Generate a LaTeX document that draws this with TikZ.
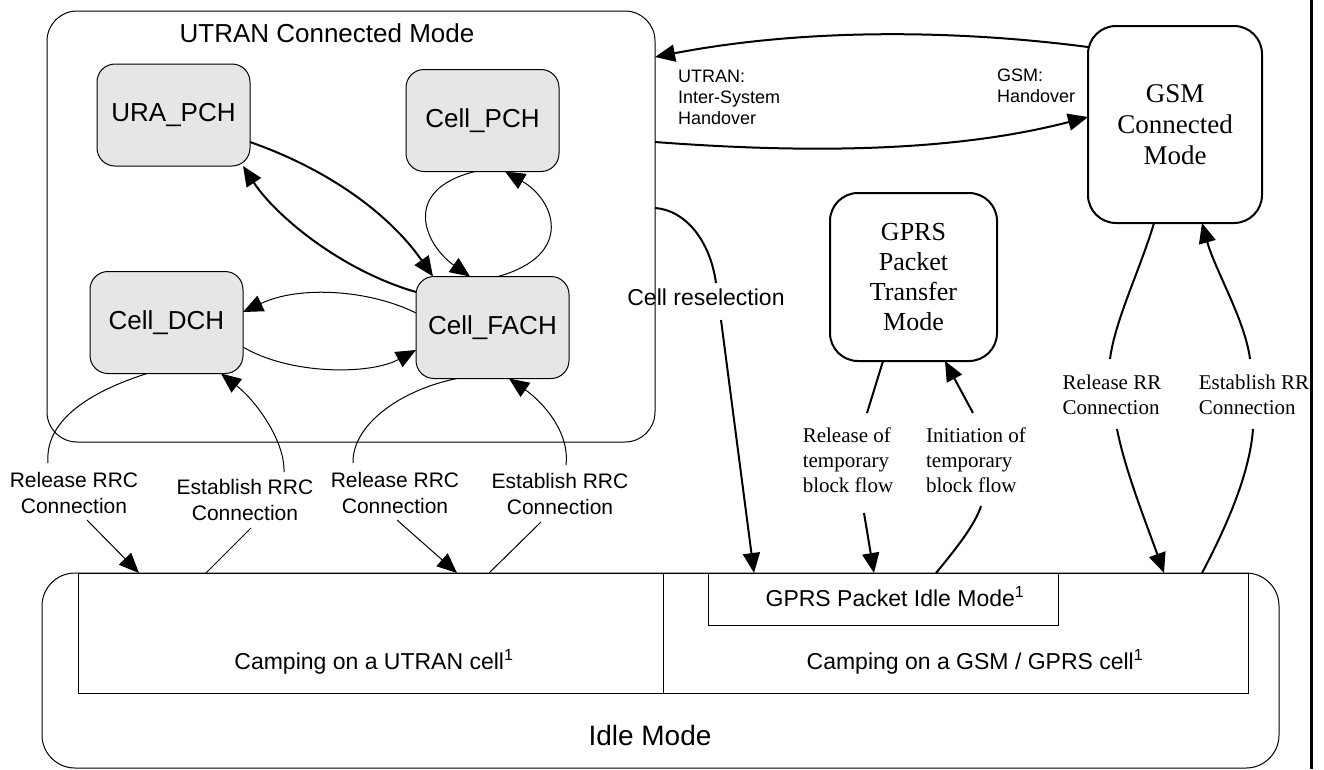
\documentclass[tikz,border=0pt]{standalone}
\usepackage{fontspec}
\setmainfont{Liberation Sans}
\newfontfamily\seriffam{Liberation Serif}
\usetikzlibrary{arrows.meta,calc}
\definecolor{boxgray}{HTML}{E6E6E6}
\begin{document}
\begin{tikzpicture}[x=1pt,y=-1pt,
  every node/.style={inner sep=0pt,outer sep=0pt},
  thinln/.style={line width=1pt},
  thickln/.style={line width=2pt},
  tip/.style={-{Triangle[length=20pt,width=17pt]}},
  substate/.style={draw,line width=1pt,fill=boxgray,rounded corners=18pt,
     minimum width=153pt,minimum height=102pt,font=\fontsize{26}{30}\selectfont},
  bigstate/.style={draw,line width=2pt,rounded corners=28pt,align=center},
  plainbox/.style={draw,line width=1pt},
  rrclbl/.style={align=center,font=\fontsize{21}{26}\selectfont},
  serlbl/.style={align=left,font=\seriffam\fontsize{21}{25}\selectfont},
  holbl/.style={anchor=west,align=left,font=\fontsize{18}{21}\selectfont}
]
\useasboundingbox (0,0) rectangle (1324,769);
\fill[white] (0,0) rectangle (1324,769);

% page frame line
\draw[line width=3pt] (1311,0) -- (1311,769);

% UTRAN connected mode
\node[draw,line width=1pt,rounded corners=30pt,minimum width=608pt,minimum height=431pt] (utran) at (351,226.5) {};
\node[font=\fontsize{26}{30}\selectfont] (utitle) at (327,33) {UTRAN Connected Mode};
\node[substate] (ura) at (173.5,115) {URA\_PCH};
\node[substate] (pch) at (482.5,120.5) {Cell\_PCH};
\node[substate] (dch) at (166.5,322.5) {Cell\_DCH};
\node[substate] (fach) at (492.5,327.5) {Cell\_FACH};

% GSM and GPRS
\node[bigstate,minimum width=174pt,minimum height=197pt,font=\seriffam\fontsize{27}{31}\selectfont] (gsm) at (1175,124.5) {GSM\\Connected\\Mode};
\node[bigstate,minimum width=167pt,minimum height=168pt,font=\seriffam\fontsize{26}{30}\selectfont] (gprs) at (913.5,277) {GPRS\\Packet\\Transfer\\Mode};

% Idle mode
\node[draw,line width=1pt,rounded corners=33pt,minimum width=1237pt,minimum height=195pt] (idle) at (660.5,670.5) {};
\node[plainbox,minimum width=585pt,minimum height=120pt] (camu) at (370.5,633) {};
\node[plainbox,minimum width=585pt,minimum height=120pt] (camg) at (955.5,633) {};
\node[plainbox,minimum width=350pt,minimum height=52pt] (gidle) at (883,599) {};
\node[font=\fontsize{23}{27}\selectfont] (camut) at (374,662) {Camping on a UTRAN cell\textsuperscript{1}};
\node[font=\fontsize{23}{27}\selectfont] (camgt) at (975,662) {Camping on a GSM / GPRS cell\textsuperscript{1}};
\node[font=\fontsize{23}{27}\selectfont] (gidlet) at (895,597) {GPRS Packet Idle Mode\textsuperscript{1}};
\node[font=\fontsize{28}{32}\selectfont] (idlet) at (650,735) {Idle Mode};

% labels
\node[rrclbl] (rel1) at (74,493) {Release RRC\\Connection};
\node[rrclbl] (est1) at (245,499.5) {Establish RRC\\Connection};
\node[rrclbl] (rel2) at (395,493) {Release RRC\\Connection};
\node[rrclbl] (est2) at (560,494) {Establish RRC\\Connection};
\node[font=\fontsize{23}{27}\selectfont] (resel) at (706,297) {Cell reselection};
\node[holbl] (uho) at (678,97) {UTRAN:\\Inter-System\\Handover};
\node[holbl] (gho) at (997,86) {GSM:\\Handover};
\node[serlbl] (rtbf) at (848,460) {Release of\\temporary\\block flow};
\node[serlbl] (itbf) at (976,460) {Initiation of\\temporary\\block flow};
\node[serlbl] (rrr) at (1112,395) {Release RR\\Connection};
\node[serlbl] (err) at (1254,395) {Establish RR\\Connection};

% transitions inside UTRAN connected mode
\draw[thickln,tip] ($(ura.east)+(0,27)$) .. controls (330,170) and (390,215) .. ($(fach.north)+(-59.5,0)$);
\draw[thickln,tip] ($(fach.west)+(0,-35.5)$) .. controls (340,270) and (275,215) .. ($(ura.south)+(69.5,0)$);
\draw[thinln,tip] ($(pch.south)+(-7.5,0)$) .. controls (400,190) and (425,245) .. ($(fach.north)+(-22.5,0)$);
\draw[thinln,tip] ($(fach.north)+(5.5,0)$) .. controls (575,255) and (555,200) .. ($(pch.south)+(22.5,0)$);
\draw[thinln,tip] ($(fach.west)+(0,-14.5)$) .. controls (370,290) and (300,285) .. ($(dch.east)+(0,-10.5)$);
\draw[thinln,tip] ($(dch.east)+(0,24.5)$) .. controls (290,375) and (370,375) .. ($(fach.west)+(0,22.5)$);

% RRC connection release / establishment
\draw[thinln] ($(dch.south)+(-19.5,0)$) .. controls (80,395) and (45,425) .. ($(rel1)+(-26,-30)$);
\draw[thinln,tip] ($(rel1)+(13,27)$) -- ($(camu.north)+(-231.5,0)$);
\draw[thinln] ($(camu.north)+(-164.5,0)$) -- ($(est1)+(6,28.5)$);
\draw[thinln,tip] ($(est1)+(39,-27.5)$) .. controls (285,440) and (255,400) .. ($(dch.south)+(54.5,0)$);
\draw[thinln] ($(fach.south)+(-35.5,0)$) .. controls (400,390) and (352,425) .. ($(rel2)+(-42,-30)$);
\draw[thinln,tip] ($(rel2)+(2,27)$) -- ($(camu.north)+(86.5,0)$);
\draw[thinln] ($(camu.north)+(118.5,0)$) -- ($(est2)+(-19,28)$);
\draw[thinln,tip] ($(est2)+(6,-29)$) .. controls (570,430) and (540,400) .. ($(fach.south)+(16.5,0)$);

% inter-system handover
\draw[thickln,tip] ($(gsm.west)+(0,-77.5)$) .. controls (950,29) and (800,29) .. ($(utran.east)+(0,-169.5)$);
\draw[thickln,tip] ($(utran.east)+(0,-84.5)$) .. controls (800,153) and (950,153) .. ($(gsm.west)+(0,-7.5)$);

% cell reselection
\draw[thickln] ($(utran.east)+(0,-18.5)$) .. controls (685,210) and (710,240) .. ($(resel)+(10,-14)$);
\draw[thickln,tip] ($(resel)+(15,23)$) -- ($(gidle.north)+(-129,0)$);

% temporary block flow
\draw[thickln] ($(gprs.south)+(-30.5,0)$) -- ($(rtbf)+(19,-47)$);
\draw[thickln,tip] ($(rtbf)+(16,53)$) -- ($(gidle.north)+(-9,0)$);
\draw[thickln] ($(gidle.north)+(53,0)$) .. controls (955,550) and (975,525) .. ($(itbf)+(5,46)$);
\draw[thickln,tip] ($(itbf)+(-3,-47)$) -- ($(gprs.south)+(31.5,0)$);

% RR connection
\draw[thickln] ($(gsm.south)+(-21,0)$) .. controls (1140,270) and (1115,320) .. ($(rrr)+(-2,-36)$);
\draw[thickln,tip] ($(rrr)+(5,34)$) .. controls (1125,470) and (1145,520) .. ($(camg.north)+(208.5,0)$);
\draw[thickln] ($(camg.north)+(246.5,0)$) .. controls (1230,520) and (1250,470) .. ($(err)+(-1,34)$);
\draw[thickln,tip] ($(err)+(-4,-36)$) .. controls (1245,320) and (1215,270) .. ($(gsm.south)+(27,0)$);
\end{tikzpicture}
\end{document}
